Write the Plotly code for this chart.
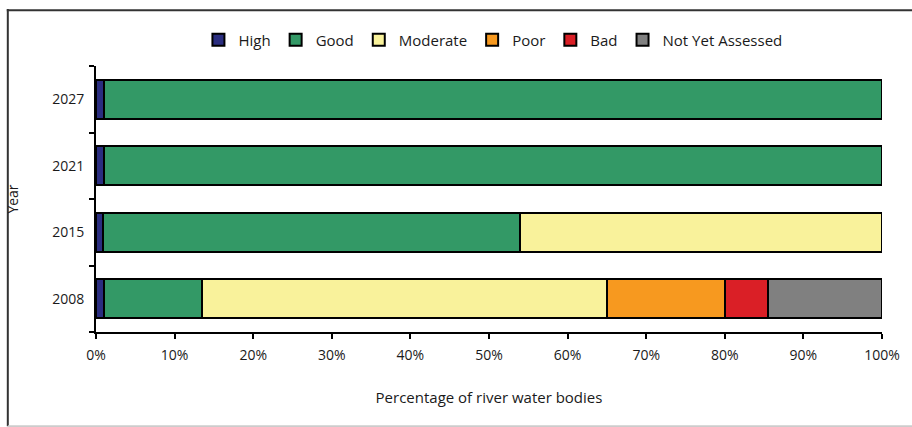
import plotly.graph_objects as go

years = ["2008", "2015", "2021", "2027"]
series_names = ["High", "Good", "Moderate", "Poor", "Bad", "Not Yet Assessed"]
high = [1.0, 0.9, 1.0, 1.0]
good = [12.5, 53.1, 99.0, 99.0]
moderate = [51.5, 46.0, 0.0, 0.0]
poor = [15.0, 0.0, 0.0, 0.0]
bad = [5.5, 0.0, 0.0, 0.0]
not_assessed = [14.5, 0.0, 0.0, 0.0]
x_tick_vals = [0, 10, 20, 30, 40, 50, 60, 70, 80, 90, 100]
x_tick_text = ["0%", "10%", "20%", "30%", "40%", "50%", "60%", "70%", "80%", "90%", "100%"]

colors = ["#2b2e80", "#339966", "#f9f29b", "#f7991f", "#da1f26", "#808080"]
values = [high, good, moderate, poor, bad, not_assessed]

FONT = "Open Sans"

fig = go.Figure()
for name, vals, col in zip(series_names, values, colors):
    fig.add_trace(go.Bar(
        y=years, x=vals, name=name, orientation="h",
        marker=dict(color=col, line=dict(color="#000000", width=2)),
    ))

fig.update_layout(
    barmode="stack",
    bargap=0.41,
    width=912, height=427,
    margin=dict(l=94, r=25, t=66, b=95),
    paper_bgcolor="white", plot_bgcolor="white",
    font=dict(family=FONT, size=14, color="#1a1a1a"),
    legend=dict(orientation="h", x=0.505, xanchor="center", y=1.098, yanchor="middle",
                font=dict(family=FONT, size=15, color="#1a1a1a"),
                itemwidth=30, traceorder="normal", itemsizing="constant"),
    xaxis=dict(range=[0, 100], tickvals=x_tick_vals, ticktext=x_tick_text,
               showgrid=False, zeroline=False, showline=True, linecolor="#000000", linewidth=2,
               ticks="outside", ticklen=5, tickwidth=2, tickcolor="#000000",
               tickfont=dict(size=14), ticklabelstandoff=4,
               title=dict(text="Percentage of river water bodies", standoff=30,
                          font=dict(family=FONT, size=15))),
    yaxis=dict(showgrid=False, zeroline=False, showline=True, linecolor="#000000", linewidth=2,
               ticks="outside", ticklen=5, tickwidth=2, tickcolor="#000000", tickson="boundaries",
               tickfont=dict(size=14), ticklabelstandoff=7,
               title=dict(text="Year", standoff=30, font=dict(family=FONT, size=14))),
    shapes=[
        dict(type="line", xref="paper", yref="paper", x0=-0.1135, x1=1.04, y0=1.21, y1=1.21,
             line=dict(color="#333333", width=2), layer="above"),
        dict(type="line", xref="paper", yref="paper", x0=-0.1122, x1=-0.1122, y0=1.214, y1=-0.354,
             line=dict(color="#333333", width=2)),
        dict(type="line", xref="paper", yref="paper", x0=-0.1122, x1=1.04, y0=-0.354, y1=-0.354,
             line=dict(color="#cccccc", width=2)),
    ],
)

fig.write_html("out.html", config={"displayModeBar": False},
               post_script="document.body.style.margin='0';")
